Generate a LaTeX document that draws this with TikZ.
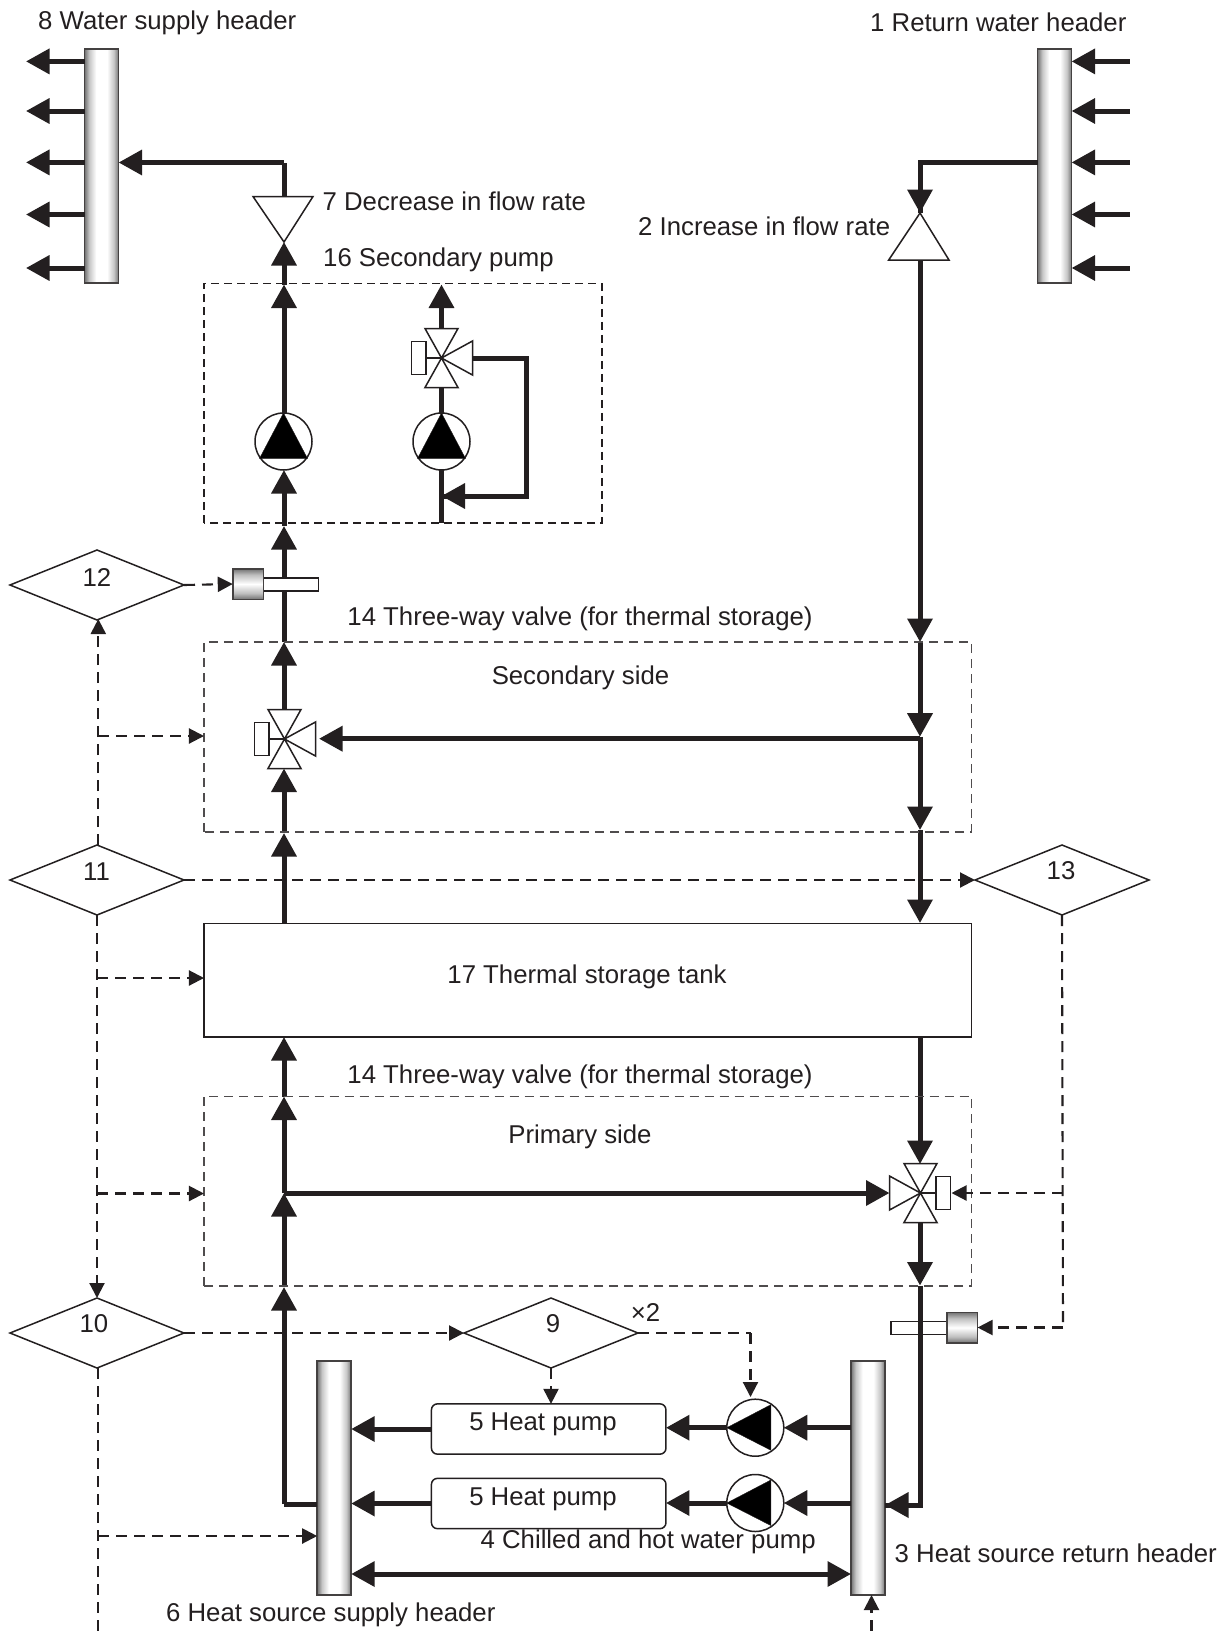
\documentclass[tikz,border=0pt]{standalone}
\usepackage{fontspec}
\setmainfont{Liberation Sans}
\usetikzlibrary{arrows.meta,shapes.geometric}
\definecolor{ink}{HTML}{231F20}
\pgfdeclarehorizontalshading{hdrshade}{100bp}{color(0bp)=(black!55);color(25bp)=(black!55);color(32bp)=(black!22);color(42bp)=(white);color(58bp)=(white);color(68bp)=(black!22);color(75bp)=(black!55);color(100bp)=(black!55)}
\pgfdeclareverticalshading{sensshade}{100bp}{color(0bp)=(black!55);color(25bp)=(black!55);color(35bp)=(black!25);color(50bp)=(white);color(65bp)=(black!25);color(75bp)=(black!55);color(100bp)=(black!55)}
\tikzset{
  x=1bp,y=-1bp,
  ink/.style={draw=ink,text=ink},
  pipetip/.tip={Triangle[length=23.5bp,width=24.5bp]},
  ctltip/.tip={Triangle[length=15bp,width=15bp]},
  pipe/.style={draw=ink,line width=5bp,line join=miter,line cap=butt},
  pipearrow/.style={pipe,-{pipetip[fill=ink]}},
  ctl/.style={draw=ink,line width=2.1bp,dash pattern=on 11bp off 7bp},
  ctlarrow/.style={ctl,-{ctltip[fill=ink]}},
  thinbox/.style={draw=ink!80,line width=1.6bp,dash pattern=on 9bp off 6bp,fill=none},
  darkbox/.style={draw=ink,line width=1.6bp,dash pattern=on 8bp off 5bp,fill=none},
  lbl/.style={text=ink,inner sep=0pt,anchor=base west,font=\fontsize{25.75bp}{30bp}\selectfont},
  clbl/.style={lbl,anchor=base},
  dia/.style={shape=diamond,draw=ink,line width=1.5bp,fill=white,inner sep=0pt,outer sep=0pt,minimum width=174bp,minimum height=70bp},
  hdr/.style={draw=ink!85,line width=1.5bp,shading=hdrshade,inner sep=0pt,outer sep=0pt,minimum width=34bp,minimum height=234bp},
  sensbody/.style={draw=ink!85,line width=1.5bp,shading=sensshade,inner sep=0pt,outer sep=0pt,minimum width=30.5bp,minimum height=30.5bp},
  sensbar/.style={draw=ink,line width=1.4bp,fill=white,inner sep=0pt,outer sep=0pt,minimum width=55.5bp,minimum height=13bp},
  hpump/.style={draw=ink,line width=1.5bp,fill=white,rounded corners=6bp,inner sep=0pt,outer sep=0pt,minimum width=234.5bp,minimum height=50.3bp},
  tankbox/.style={draw=ink,line width=1.6bp,fill=white,inner sep=0pt,outer sep=0pt,minimum width=767.5bp,minimum height=113.7bp},
  pumpc/.style={shape=circle,draw=ink,line width=1.5bp,fill=white,inner sep=0pt,outer sep=0pt,minimum size=57bp},
  valveline/.style={draw=ink,line width=1.5bp,fill=white,line join=miter},
  flowtri/.style={draw=ink,line width=1.5bp,fill=white,line join=miter},
}
\newcommand{\valvesym}[4]{%
  \coordinate (#1) at (#2,#3);
  \begin{scope}[shift={(#2,#3)},xscale=#4]
    \draw[valveline] (-15,0) -- (0,0);
    \draw[valveline] (-16.5,-29.5) -- (16.5,-29.5) -- (0,0) -- cycle;
    \draw[valveline] (-16.5,29.5) -- (16.5,29.5) -- (0,0) -- cycle;
    \draw[valveline] (0,0) -- (31,-17) -- (31,17) -- cycle;
    \draw[valveline] (-30,-16.5) rectangle (-15.5,16.5);
  \end{scope}}
\newcommand{\pumpup}[3]{%
  \node[pumpc] (#1) at (#2,#3) {};
  \begin{scope}[shift={(#2,#3)}]
    \fill[ink] (0,-28.5) -- (24,17) -- (-24,17) -- cycle;
  \end{scope}}
\newcommand{\pumpleft}[3]{%
  \node[pumpc] (#1) at (#2,#3) {};
  \begin{scope}[shift={(#2,#3)}]
    \fill[ink] (-28.5,0) -- (15.5,-23) -- (15.5,22.5) -- cycle;
  \end{scope}}
\begin{document}
\begin{tikzpicture}
\useasboundingbox (0,0) rectangle (1229,1631);
\fill[white] (0,0) rectangle (1229,1631);

% ---------- named points
\coordinate (pLa) at (284,162.5);
\coordinate (pLb) at (284,196.5);
\coordinate (pLc) at (284,242);
\coordinate (pLd) at (284,284.5);
\coordinate (pLe) at (284,413);
\coordinate (pLf) at (284,470);
\coordinate (pLg) at (284,526);
\coordinate (pLh) at (284,642);
\coordinate (pLi) at (284,709.5);
\coordinate (pLj) at (284,768.5);
\coordinate (pLk) at (284,833);
\coordinate (pLl) at (284,923.5);
\coordinate (pBa) at (284,1037);
\coordinate (pBb) at (284,1096.5);
\coordinate (pBc) at (284,1193);
\coordinate (pBd) at (284,1287);
\coordinate (pBe) at (284,1504);
\coordinate (pRa) at (920,162);
\coordinate (pRb) at (920,213);
\coordinate (pRc) at (920,260);
\coordinate (pRd) at (920,642);
\coordinate (pRe) at (920,736.7);
\coordinate (pRj) at (920,738.7);
\coordinate (pRf) at (920,830);
\coordinate (pRg) at (920,923);
\coordinate (pRh) at (920,1037);
\coordinate (pRi) at (920,1096.5);
\coordinate (pRk) at (920,1164);
\coordinate (pRl) at (920,1222.5);
\coordinate (pRm) at (920,1285.5);
\coordinate (pRn) at (920,1505);

% ---------- pipes (behind the symbols)
\draw[pipe] (pRh) -- (pRi);
\draw[pipearrow] (pRi) -- (pRk);
\draw[pipearrow] (pRl) -- (pRm);
\draw[pipearrow] (pLl) -- (pLk);
\draw[pipearrow] (pLk) -- (pLj);
\draw[pipearrow] (pLi) -- (pLh);
\draw[pipearrow] (pLh) -- (pLg);
\draw[pipearrow] (pLg) -- (pLf);
\draw[pipearrow] (pLe) -- (pLd);
\draw[pipearrow] (pLd) -- (pLc);
\draw[pipe] (pLb) -- (pLa);
\draw[pipearrow] (pRc) -- (pRd);
\draw[pipearrow] (pRd) -- (pRe);
\draw[pipearrow] (pRe) -- (pRf);
\draw[pipearrow] (pRf) -- (pRg);
\draw[pipearrow] (pBe) -- (pBd);
\draw[pipearrow] (pBd) -- (pBc);
\draw[pipearrow] (pBc) -- (pBb);
\draw[pipearrow] (pBb) -- (pBa);

% ---------- headers
\node[hdr] (h8) at (101.6,166) {};
\node[hdr] (h1) at (1054.6,166) {};
\node[hdr] (h6) at (334.2,1478) {};
\node[hdr] (h3) at (868,1478) {};

\foreach \n/\yy in {a/61.4,b/111,c/162.4,d/214.5,e/268}{
  \coordinate (o\n) at (26,\yy);
  \draw[pipearrow] (h8.west |- o\n) -- (o\n);
  \coordinate (i\n) at (1129.5,\yy);
  \draw[pipearrow] (i\n) -- (h1.east |- i\n);
}
\draw[pipearrow] (pLa) -- (pLa -| h8.east);
\draw[pipe] (pRa -| h1.west) -- (pRa) -- (pRb);
\draw[pipearrow] (pRa) -- (pRb);

% ---------- flow-rate triangles
\draw[flowtri] (253,196.5) -- (313,196.5) -- (pLc) -- cycle;
\draw[flowtri] (888.7,260) -- (949,260) -- (pRb) -- cycle;

% ---------- dashed boxes
\node[inner sep=0pt,outer sep=0pt,minimum width=398bp,minimum height=239.6bp] (bx16) at (403,403.2) {};
\draw[darkbox] (bx16.south west) rectangle (bx16.north east);
\node[inner sep=0pt,outer sep=0pt,minimum width=767.5bp,minimum height=190bp] (bxS) at (587.75,736.7) {};
\draw[thinbox] (bxS.south west) rectangle (bxS.north east);
\node[inner sep=0pt,outer sep=0pt,minimum width=767.5bp,minimum height=189.5bp] (bxP) at (587.75,1191.2) {};
\draw[thinbox] (bxP.south west) rectangle (bxP.north east);

% ---------- secondary pump with bypass
\coordinate (sTop) at (441.5,284.5);
\coordinate (sV) at (441.5,327.6);
\coordinate (sVb) at (441.5,386.5);
\coordinate (sPt) at (441.5,413);
\coordinate (sPb) at (441.5,470);
\coordinate (sBt) at (441.5,523);
\coordinate (sLa) at (472,358);
\coordinate (sLb) at (526.5,358);
\coordinate (sLc) at (526.5,496);
\coordinate (sLd) at (441.5,496);
\draw[pipearrow] (sV) -- (sTop);
\draw[pipe] (sVb) -- (sPt);
\draw[pipe] (sPb) -- (sBt);
\draw[pipe] (sLa) -- (sLb) -- (sLc) -- (sLd);
\draw[pipearrow] (sLc) -- (sLd);
\pumpup{p16a}{283.5}{441.5}
\pumpup{p16b}{441.5}{441.5}
\valvesym{v16}{441.5}{358}{1}

% ---------- secondary & primary three-way valves
\draw[pipearrow] (pRj) -- (319,738.7);
\valvesym{vS}{284.5}{739}{1}
\draw[pipearrow] (pBc) -- (889.5,1193);
\valvesym{vP}{920.5}{1193}{-1}

% ---------- flow sensors
\node[sensbar] (sb1) at (290.5,584.5) {};
\node[sensbody] (sn1) at (248,584) {};
\node[sensbar] (sb2) at (918.7,1328) {};
\node[sensbody] (sn2) at (962.3,1327.5) {};

% ---------- tank
\node[tankbox] (tank) at (587.75,980.2) {};
\node[clbl] at (587,983.5) (tankt) {17 Thermal storage tank};

% ---------- heat pumps and their pipes
\draw[pipe] (pBe) -- (h6.west |- pBe);
\draw[pipe] (pRm) -- (pRn) -- (pRn -| h3.east);
\draw[pipearrow] (pRn) -- (pRn -| h3.east);
\node[hpump] (hp1) at (548.7,1429) {};
\node[hpump] (hp2) at (548.7,1503.5) {};
\pumpleft{cp1}{755.3}{1427.7}
\pumpleft{cp2}{755.3}{1503}
\draw[pipearrow] (hp1.west) -- (hp1.west -| h6.east);
\draw[pipearrow] (hp2.west) -- (hp2.west -| h6.east);
\draw[pipearrow] (cp1.west) -- (cp1.west -| hp1.east);
\draw[pipearrow] (cp2.west) -- (cp2.west -| hp2.east);
\draw[pipearrow] (cp1.east -| h3.west) -- (cp1.east);
\draw[pipearrow] (cp2.east -| h3.west) -- (cp2.east);
\coordinate (bd) at (600,1574);
\draw[pipe,{pipetip[fill=ink]}-{pipetip[fill=ink]}] (bd -| h6.east) -- (bd -| h3.west);

% ---------- decision diamonds
\node[dia] (d12) at (97,585) {};
\node[dia] (d11) at (97,880) {};
\node[dia] (d10) at (97,1333) {};
\node[dia] (d9) at (551,1333) {};
\node[dia] (d13) at (1062,880) {};

% ---------- control lines
\draw[ctlarrow] (d12.east) -- (sn1.west);
\coordinate (ca) at (98.3,845);
\coordinate (cb) at (98.3,736);
\coordinate (cz) at (98.3,619);
\draw[ctlarrow] (ca) -- (cz);
\draw[ctlarrow] (cb) -- (cb -| bxS.west);
\draw[ctlarrow] (d11.east) -- (d13.west);
\draw[ctlarrow] (d11.south) -- (d10.north);
\coordinate (cc) at (97,978);
\coordinate (cd) at (97,1193.5);
\draw[ctlarrow] (cc) -- (cc -| tank.west);
\draw[ctlarrow] (cd) -- (cd -| bxP.west);
\draw[ctlarrow] (d10.east) -- (d9.west);
\coordinate (ce) at (750.5,1333);
\coordinate (cf) at (750.5,1397);
\draw[ctl] (d9.east) -- (ce);
\draw[ctlarrow] (ce) -- (cf);
\draw[ctlarrow] (d9.south) -- (hp1.north -| d9.south);
\coordinate (cg) at (98.3,1631);
\coordinate (ch) at (98.3,1536);
\coordinate (cy) at (98.3,1368);
\draw[ctl] (cy) -- (cg);
\draw[ctlarrow] (ch) -- (ch -| h6.west);
\coordinate (ci) at (871.5,1631);
\draw[ctlarrow] (ci) -- (h3.south -| ci);
\coordinate (cj) at (1063,1193);
\coordinate (ck) at (1063,1327.5);
\draw[ctl] (d13.south) -- (ck);
\draw[ctlarrow] (cj) -- (951.5,1193);
\draw[ctlarrow] (ck) -- (sn2.east);

% ---------- labels
\node[lbl] (t8) at (38,30) {8 Water supply header};
\node[lbl] (t1) at (870,32) {1 Return water header};
\node[lbl] (t7) at (322.5,210.5) {7 Decrease in flow rate};
\node[lbl] (t16) at (323,266.5) {16 Secondary pump};
\node[lbl] (t2) at (638,235.5) {2 Increase in flow rate};
\node[clbl] (t14a) at (580,625) {14 Three-way valve (for thermal storage)};
\node[clbl] (t14b) at (580,1083) {14 Three-way valve (for thermal storage)};
\node[clbl] (tSec) at (580.5,684) {Secondary side};
\node[clbl] (tPri) at (580,1143) {Primary side};
\node[clbl] (n12) at (97,586) {12};
\node[clbl] (n11) at (96.5,880) {11};
\node[clbl] (n10) at (94,1332) {10};
\node[clbl] (n9) at (553,1332) {9};
\node[clbl] (n13) at (1061,879.5) {13};
\node[clbl] (x2) at (645.5,1321) {×2};
\node[clbl] (hpt1) at (543,1430.5) {5 Heat pump};
\node[clbl] (hpt2) at (543,1505.5) {5 Heat pump};
\node[lbl] (t4) at (480.5,1548) {4 Chilled and hot water pump};
\node[lbl] (t3) at (894.5,1562) {3 Heat source return header};
\node[lbl] (t6) at (166,1621.5) {6 Heat source supply header};
\end{tikzpicture}
\end{document}
